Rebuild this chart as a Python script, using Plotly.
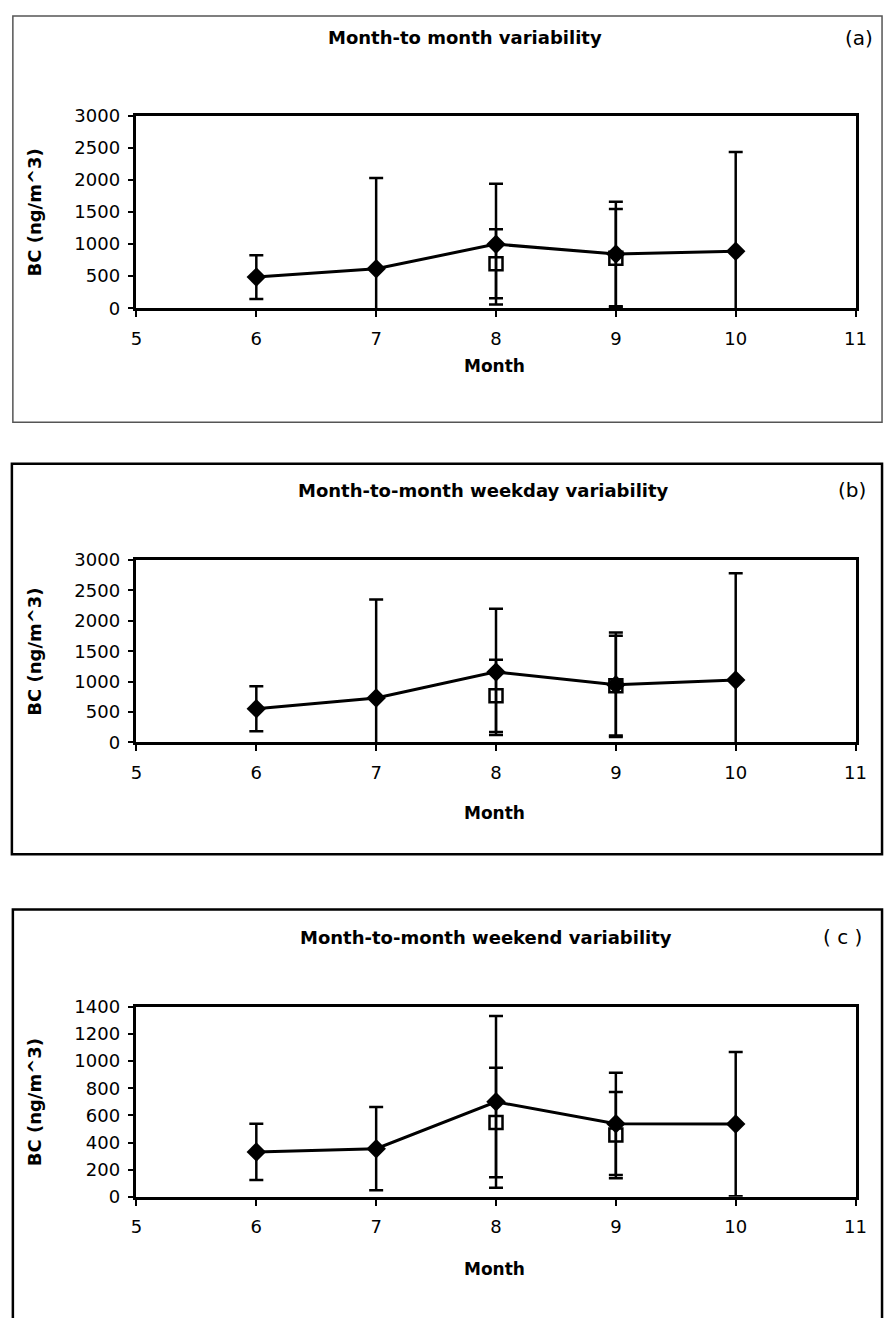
import plotly.graph_objects as go

# Monthly BC concentrations (ng/m^3): mean and standard deviation
months = [6, 7, 8, 9, 10]
sub_months = [8, 9]

all_mean = [485, 617, 1000, 845, 888]
all_sd = [340, 1414, 944, 815, 1551]
all_sub_mean = [694, 780]
all_sub_sd = [540, 770]

wkday_mean = [556, 730, 1161, 950, 1027]
wkday_sd = [370, 1622, 1039, 860, 1757]
wkday_sub_mean = [767, 935]
wkday_sub_sd = [595, 820]

wkend_mean = [331, 355, 700, 538, 536]
wkend_sd = [207, 307, 633, 377, 531]
wkend_sub_mean = [548, 455]
wkend_sub_sd = [403, 318]

x_ticks = [5, 6, 7, 8, 9, 10, 11]

W, H = 895, 1318
FONT = "DejaVu Sans, Arial, sans-serif"


def px_x(p):
    return p / W


def px_y(p):
    return 1 - p / H


panels = [
    dict(title="Month-to month variability", tag="(a)",
         mean=all_mean, sd=all_sd, smean=all_sub_mean, ssd=all_sub_sd,
         ymax=3000, dtick=500, top=106.7, bottom=302,
         box=(7, 5, 893, 418), box_color="#555", box_w=1.5,
         title_x=468, tag_x=870, title_y=27, month_y=361),
    dict(title="Month-to-month weekday variability", tag="(b)",
         mean=wkday_mean, sd=wkday_sd, smean=wkday_sub_mean, ssd=wkday_sub_sd,
         ymax=3000, dtick=500, top=558, bottom=743.3,
         box=(6, 460, 893, 857), box_color="black", box_w=2.5,
         title_x=487, tag_x=862, title_y=487, month_y=815),
    dict(title="Month-to-month weekend variability", tag="( c )",
         mean=wkend_mean, sd=wkend_sd, smean=wkend_sub_mean, ssd=wkend_sub_sd,
         ymax=1400, dtick=200, top=1012, bottom=1205,
         box=(7, 913, 893, 1340), box_color="black", box_w=2.5,
         title_x=489, tag_x=853, title_y=941, month_y=1278),
]

fig = go.Figure()
shapes = []
annotations = []
plot_left, plot_right = 133, 866


def label(text, x, y, size, angle=0):
    return dict(text=text, xref="paper", yref="paper", x=px_x(x), y=px_y(y),
                xanchor="center", yanchor="middle", showarrow=False,
                textangle=angle, font=dict(family=FONT, size=size, color="black"))


for i, p in enumerate(panels, start=1):
    xa = "x" if i == 1 else f"x{i}"
    ya = "y" if i == 1 else f"y{i}"

    # open squares for the two-month subset
    fig.add_trace(go.Scatter(
        x=sub_months, y=p["smean"], xaxis=xa, yaxis=ya, mode="markers",
        marker=dict(symbol="square-open", size=13, color="black",
                    line=dict(width=2.5, color="black")),
        error_y=dict(type="data", array=p["ssd"], symmetric=True,
                     thickness=2.5, width=7, color="black"),
        showlegend=False,
    ))
    # full series: filled diamonds joined by a line
    fig.add_trace(go.Scatter(
        x=months, y=p["mean"], xaxis=xa, yaxis=ya, mode="lines+markers",
        line=dict(color="black", width=3),
        marker=dict(symbol="diamond", size=15, color="black"),
        error_y=dict(type="data", array=p["sd"], symmetric=True,
                     thickness=2.5, width=7, color="black"),
        showlegend=False,
    ))

    axis_common = dict(
        showline=True, linecolor="black", linewidth=2.5, mirror=True,
        ticks="outside", ticklen=6, tickwidth=1.5, tickcolor="black",
        showgrid=False, zeroline=False,
        tickfont=dict(family=FONT, size=18, color="black"),
    )
    fig.update_layout(**{
        ("xaxis" if i == 1 else f"xaxis{i}"): dict(
            axis_common, range=[5, 11], tickvals=x_ticks,
            domain=[px_x(plot_left), px_x(plot_right)],
            anchor=ya, ticklabelstandoff=6,
        ),
        ("yaxis" if i == 1 else f"yaxis{i}"): dict(
            axis_common, range=[0, p["ymax"]], dtick=p["dtick"],
            domain=[px_y(p["bottom"]), px_y(p["top"])],
            anchor=xa, ticklabelstandoff=4,
        ),
    })

    x0, y0, x1, y1 = p["box"]
    shapes.append(dict(type="rect", xref="paper", yref="paper",
                       x0=px_x(x0), x1=px_x(x1), y0=px_y(y1), y1=px_y(y0),
                       line=dict(color=p["box_color"], width=p["box_w"]),
                       fillcolor="rgba(0,0,0,0)", layer="below"))

    annotations += [
        label(f"<b>{p['title']}</b>", p["title_x"], p["title_y"], 18),
        label(p["tag"], p["tag_x"], p["title_y"], 20),
        label("<b>Month</b>", 498, p["month_y"], 17),
        label("<b>BC (ng/m^3)</b>", 29, (p["top"] + p["bottom"]) / 2, 18, -90),
    ]

fig.update_layout(
    width=W, height=H, margin=dict(l=0, r=0, t=0, b=0),
    paper_bgcolor="white", plot_bgcolor="white",
    shapes=shapes, annotations=annotations,
)

fig.write_html("out.html")
